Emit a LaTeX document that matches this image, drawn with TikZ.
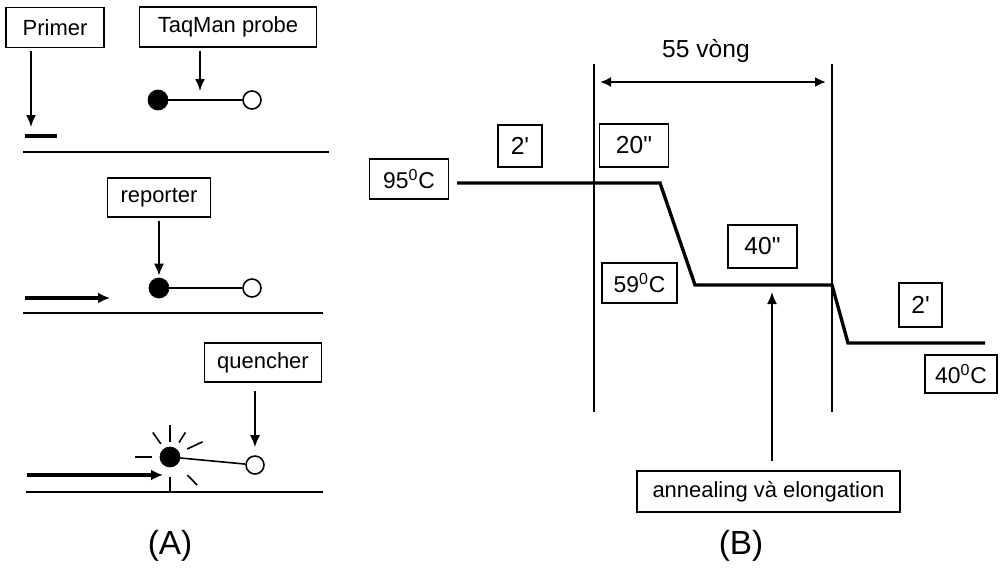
\documentclass[tikz,border=0pt]{standalone}
\usepackage{fontspec}
\setmainfont{Liberation Sans}
\usetikzlibrary{arrows.meta,positioning}

\begin{document}
\begin{tikzpicture}[x=0.02cm,y=-0.02cm,
  tag/.style 2 args={draw,line width=0.8pt,inner sep=0pt,minimum width=#1cm,minimum height=#2cm,
    font=\fontsize{12.5}{14}\selectfont},
  numtag/.style 2 args={tag={#1}{#2},font=\fontsize{14}{16}\selectfont},
  ptr/.style={-{Latex[length=0.24cm,width=0.2cm]},line width=1pt},
  fatptr/.style={-{Latex[length=0.24cm,width=0.22cm]},line width=1.8pt},
  strand/.style={line width=1.1pt},
  dyeon/.style={circle,fill=black,draw,inner sep=0pt,minimum size=0.4cm},
  dyeoff/.style={circle,draw,line width=0.9pt,fill=white,inner sep=0pt,minimum size=0.36cm},
  profile/.style={line width=1.9pt,line join=miter}]
  \useasboundingbox (0,0) rectangle (1000,571);

  % (A) probe, three steps
  \node[tag={1.96}{0.8}] (primer) at (55,27.5) {Primer};
  \node[tag={3.54}{0.8}] (taqman) at (228,27) {TaqMan probe};
  \coordinate (ptip) at (31,127);
  \draw[ptr] ([yshift=-0.06cm]primer.south -| ptip) -- (ptip);
  \draw[line width=2.2pt] (25,136) -- (57,136);
  \node[dyeon] (f1) at (158,100) {};
  \node[dyeoff] (o1) at (252,100) {};
  \draw[line width=0.9pt] (f1) -- (o1);
  \coordinate (qtip) at (200,91);
  \draw[ptr] ([yshift=-0.06cm]taqman.south -| qtip) -- (qtip);
  \draw[strand] (23,152) -- (329,152);

  \node[tag={2.06}{0.78}] (reporter) at (159,197.5) {reporter};
  \node[dyeon] (f2) at (159,288) {};
  \node[dyeoff] (o2) at (252,288) {};
  \draw[line width=0.9pt] (f2) -- (o2);
  \draw[ptr] ([yshift=-0.06cm]reporter.south) -- ([yshift=0.04cm]f2.north);
  \coordinate (ext2a) at (25,298);
  \coordinate (ext2b) at (110,298);
  \draw[fatptr] (ext2a) -- (ext2b);
  \draw[strand] (23,313) -- (323,313);

  \node[tag={2.34}{0.78}] (quencher) at (263,362.5) {quencher};
  \node[dyeon] (f3) at (170,457) {};
  \node[dyeoff] (o3) at (255,465) {};
  \draw[line width=0.9pt] (f3) -- (o3);
  \draw[ptr,shorten >=0.16cm] ([yshift=-0.16cm]quencher.south -| o3) -- (o3.north);
  \foreach \a/\r/\R in {-90/15/32,-125/16/30,-58/17/29,-25/19/36,180/18/35,46/25/39,90/20/35}
    \draw[line width=0.9pt] ([shift={(\a:\r)}]f3.center) -- ([shift={(\a:\R)}]f3.center);
  \coordinate (ext3a) at (27,475);
  \coordinate (ext3b) at (163,475);
  \draw[fatptr] (ext3a) -- (ext3b);
  \draw[strand] (26,492) -- (323,492);
  \node[font=\fontsize{19}{22}\selectfont] (labA) at (170,546) {(A)};

  % (B) thermal profile
  \coordinate (v1top) at (594,64);
  \coordinate (v1bot) at (594,412);
  \coordinate (v2top) at (832,64);
  \coordinate (v2bot) at (832,412);
  \draw[line width=0.9pt] (v1top) -- (v1bot);
  \draw[line width=1.3pt] (v2top) -- (v2bot);
  \coordinate (cyc0) at (600,82);
  \coordinate (cyc1) at (826,82);
  \draw[{Latex[length=0.22cm,width=0.2cm]}-{Latex[length=0.22cm,width=0.2cm]},line width=1.4pt] (cyc0) -- (cyc1);
  \node[font=\fontsize{14}{16}\selectfont] (cycles) at (706,51) {55 vòng};

  \coordinate (h0) at (457,183);
  \coordinate (h1) at (660,183);
  \coordinate (m0) at (695,285);
  \coordinate (m1) at (832,285);
  \coordinate (l0) at (848,343);
  \coordinate (l1) at (985,343);
  \draw[profile] (h0) -- (h1) -- (m0) -- (m1) -- (l0) -- (l1);

  \node[numtag={1.58}{0.8},font=\fontsize{13}{15}\selectfont] (t95) at (409,179) {95\textsuperscript{0}C};
  \node[numtag={0.88}{0.84}] (d2a) at (520,146) {2\textquotesingle};
  \node[numtag={1.38}{0.86}] (d20) at (634,145.5) {20\textquotedbl};
  \node[numtag={1.5}{0.8},font=\fontsize{13}{15}\selectfont] (t59) at (639.5,283) {59\textsuperscript{0}C};
  \node[numtag={1.38}{0.86}] (d40) at (762.5,246.5) {40\textquotedbl};
  \node[numtag={0.86}{0.88}] (d2b) at (920.5,305) {2\textquotesingle};
  \node[numtag={1.44}{0.76},font=\fontsize{13}{15}\selectfont] (t40) at (961,374) {40\textsuperscript{0}C};

  \node[tag={5.26}{0.82},font=\fontsize{12.5}{15}\selectfont] (anneal) at (768.5,491.5) {annealing và elongation};
  \coordinate (atip) at (772,292);
  \draw[ptr,shorten <=0.18cm] (anneal.north -| atip) -- (atip);
  \node[font=\fontsize{19}{22}\selectfont] (labB) at (741,546) {(B)};
\end{tikzpicture}
\end{document}
